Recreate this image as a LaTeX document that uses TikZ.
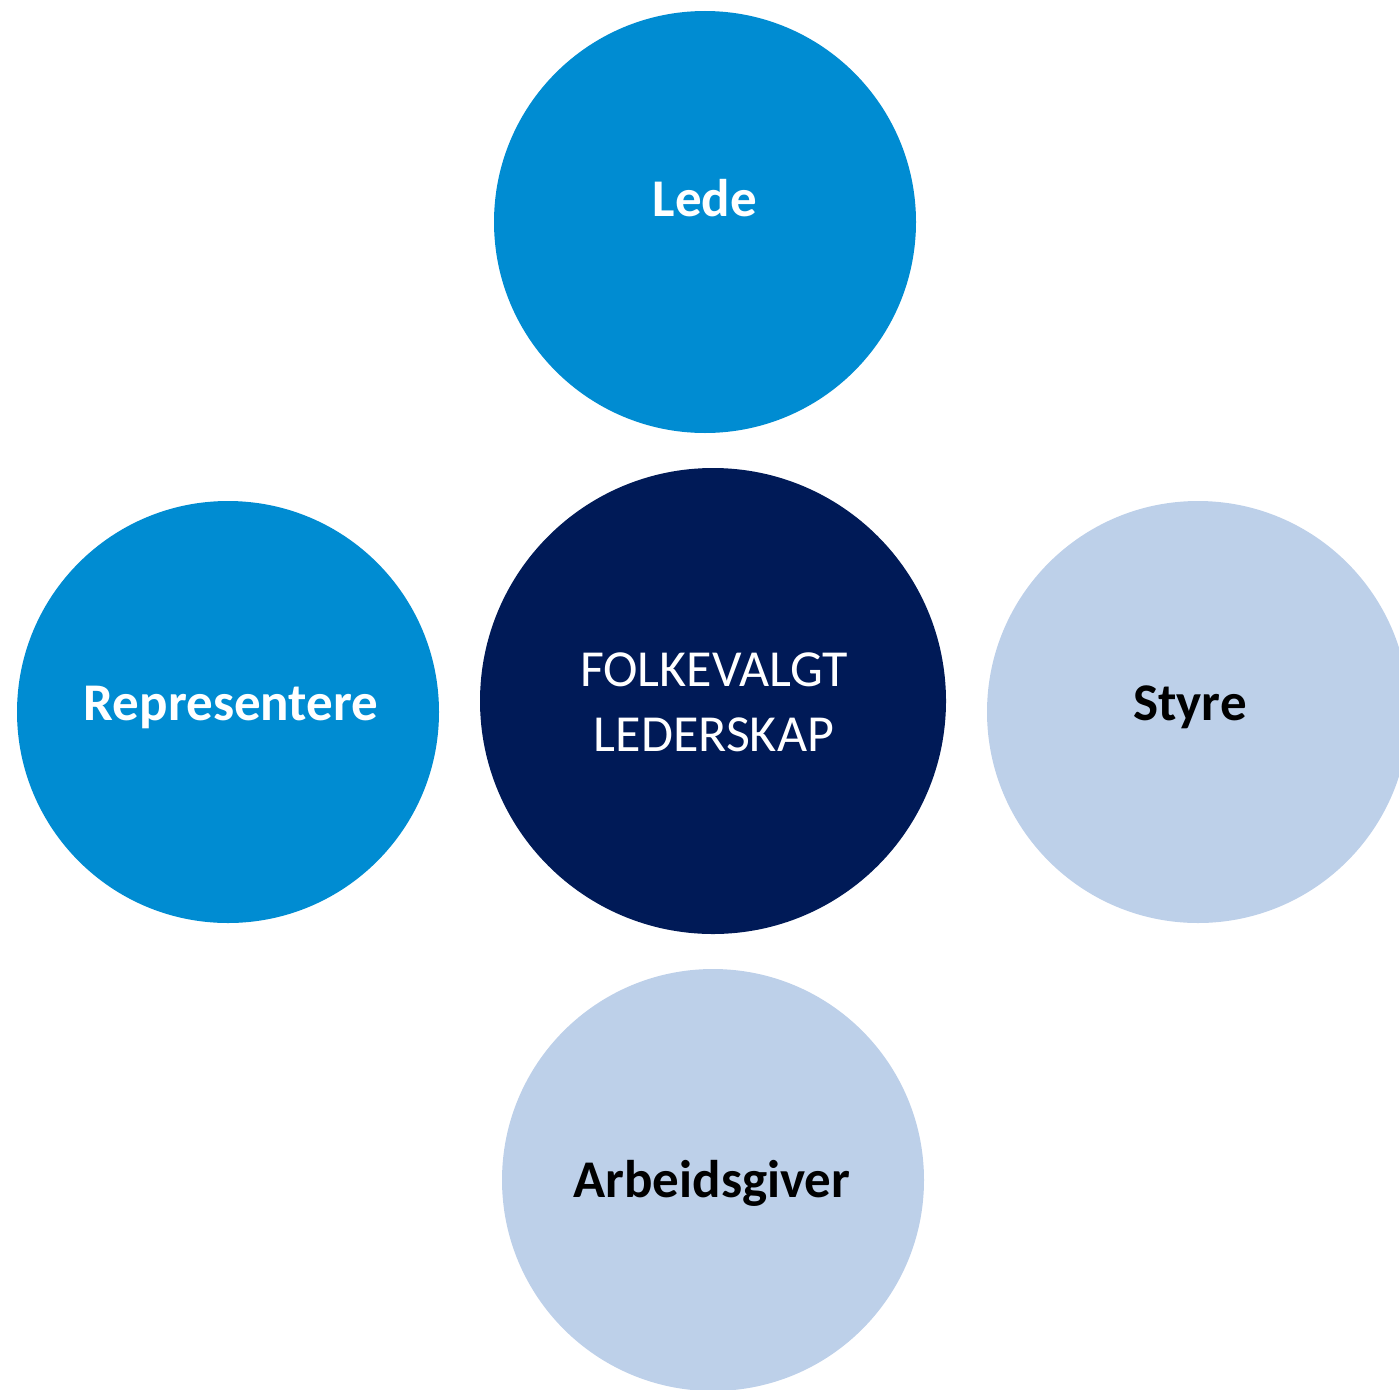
\documentclass[tikz,border=0pt]{standalone}
\usepackage{fontspec}
\setmainfont{Carlito}
\definecolor{midblue}{RGB}{0,140,210}
\definecolor{navy}{RGB}{0,26,87}
\definecolor{lightblue}{RGB}{189,208,233}
\begin{document}
\begin{tikzpicture}[x=1pt,y=-1pt,
  bubble/.style={circle,inner sep=0pt,minimum size=422pt},
  lbl/.style={font=\fontsize{53}{60}\selectfont\bfseries},
  ctr/.style={font=\fontsize{52}{65}\selectfont,align=center,text=white}]
\useasboundingbox (0,0) rectangle (1399,1389);
\begin{scope}
\clip (0,0) rectangle (1399,1389);
\node[bubble,fill=midblue] (lede) at (705,222) {};
\node[bubble,fill=midblue] (rep) at (228,712) {};
\node[bubble,fill=lightblue] (styre) at (1198,712) {};
\node[bubble,fill=lightblue] (arb) at (713,1180) {};
\node[circle,inner sep=0pt,minimum size=466pt,fill=navy] (ctr) at (713,701) {};
\end{scope}
\node[lbl,text=white] (ledet) at (705,198) {Lede};
\node[lbl,text=white] (rept) at (231,707) {Representere};
\node[lbl,text=black] (styret) at (1190,707) {Styre};
\node[lbl,text=black] (arbt) at (712,1183) {Arbeidsgiver};
\node[ctr] (ctrt) at (714,702) {FOLKEVALGT\\LEDERSKAP};
\end{tikzpicture}
\end{document}
